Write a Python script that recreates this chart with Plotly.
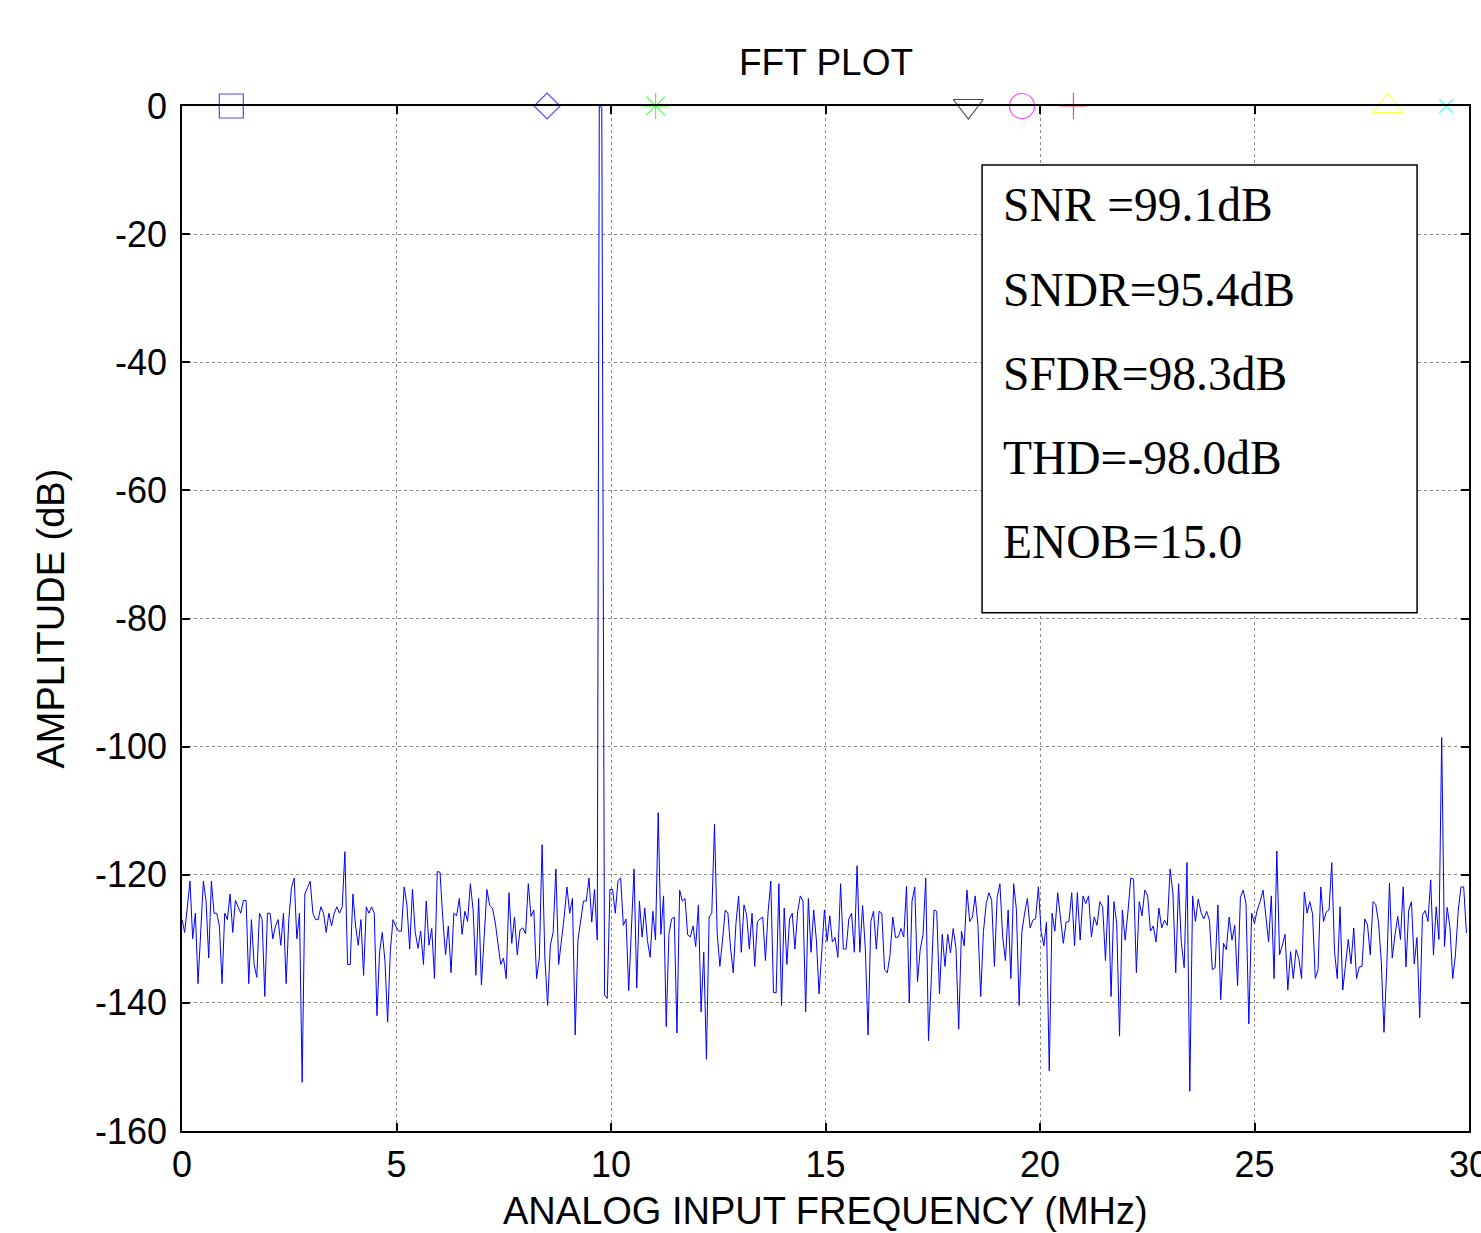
import numpy as np
import plotly.graph_objects as go

# ---------------- data ----------------
# Spectrum amplitude (dB) in six frequency segments plus the fundamental.
seg_a_db = [
    -127, -129, -125, -121, -130, -126, -137, -129, -121, -124,
    -133, -121, -126, -126, -128, -137, -126, -127, -123, -129,
    -124, -125, -126, -124, -124, -137, -127, -134, -136, -126,
    -127, -139, -126, -126, -130, -128, -127, -131, -126, -137,
    -127, -122, -120.5, -130, -126, -152.4, -123, -122, -121, -126,
    -127, -127, -125, -126, -129, -126, -128, -126, -125, -126,
    -125, -116.4, -134, -134, -123, -128, -131, -127, -135.7, -125,
    -126, -125, -126, -142, -132, -129, -133.5, -143, -132, -127,
    -128,
]
seg_b_db = [
    -128.8, -128.8, -121.9, -124.7, -131.6, -122.3, -128.9, -131.5, -128.8, -134,
    -124.1, -131, -128.4, -136.2, -119.5, -119.6, -126.8, -132.5, -128, -135.3,
    -126, -126.4, -123.7, -129.3, -125.7, -127.3, -121.4, -125.5, -135.7, -123.7,
    -137.2, -128.9, -122.3, -124.8, -125.2, -127.4, -130.7, -134, -133, -136.2,
    -122.8, -130.7, -126.6, -132.5, -128.6, -128.3, -129.2, -121.4, -126.5, -125.5,
    -136.2, -133, -115.3, -133, -140.4, -131, -129, -119.1, -134, -130.7,
    -126.6, -121.9, -126, -123.7, -145, -130.2, -127.2, -124.1, -124.1, -120.5,
    -127.4, -122.3, -130.2,
]
peak_db = [0.0, -0.2]
seg_c_db = [
    -138.8, -139.3,
    -122.3, -122.3, -126, -120.9, -120.5, -127.9, -126.9, -138.1, -129.4, -119.1,
    -137.7, -124.1, -129.7, -125.2, -130.3, -132.9, -125.7, -130.2, -110.3, -129.3,
    -123.3, -143.7, -129.3, -126.9, -126.6, -144.7, -122.4, -124.1, -123.7, -129.4,
    -129.7, -128, -131.2, -124.7, -141.4, -132.1, -148.8, -126.6, -126, -112.1,
    -129.1, -134.3, -130.2, -125.5, -126, -131.5, -135.3, -127.6, -123.3, -132.1,
    -124.7, -126.3, -131.6, -126, -134.3, -127.3, -126.9, -126.6, -133.4, -125.8,
    -121, -138.4, -138.4, -121.4, -140.4, -125.2, -134, -126.9, -126, -131.6,
    -125.8, -123.3, -124.1, -141.4, -123.7, -132.1, -125.5, -130.2, -138.6, -132,
    -125.5, -130.4, -126.4,
]
seg_d_db = [
    -130.5, -129.8, -132.9, -121.4, -131.6, -131.6, -126.9, -126, -132.1, -118.6,
    -132.1, -124.8, -131.5, -145, -127.3, -125.7, -131.6, -125.7, -126, -134.8,
    -135.3, -132.5, -126.6, -129.8, -129.7, -128.4, -129.7, -121.8, -140, -124.1,
    -121.9, -136.7, -131.6, -129.4, -120.5, -145.9, -136.5, -125.5, -125.7, -138.6,
    -129.3, -134.3, -129.3, -132.2, -128.4, -131.5, -144.1, -128.8, -131.1, -122.4,
    -127.3, -126.6, -123.3, -127.9, -139, -128.9, -124.5, -122.8, -124, -134.3,
    -123.5, -121.4, -129.7, -133.4, -125.5, -136.2, -121.4, -125.4, -140.4, -128.9,
    -126, -123.7, -128.3, -127.1, -126.9, -121.9, -128.9, -131.1,
]
seg_e_db = [
    -127.4, -150.6, -126, -128.8, -122.8, -127.3, -130.7, -127.4, -127.3, -122.8,
    -131.1, -122.8, -130.2, -123.3, -124.5, -123.3, -129.7, -126.6, -127.9, -124.2,
    -125, -133.4, -123.2, -139, -124.2, -127.6, -145.2, -125.5, -130.2, -125.8,
    -120.5, -120.7, -135.3, -124.2, -126.4, -122.4, -123.2, -128.8, -128, -130.5,
    -125.2, -128.3, -127.1, -127.9, -119.1, -122.9, -135.3, -121.4, -130.7, -134.5,
    -118.1, -153.8, -123.3, -127.3, -123.8, -125.9, -126.9, -125.7, -127.1, -134.8,
    -134.5, -124.7, -139.5, -130.7, -131.7, -126.6, -130.2, -127.9, -137.3, -123.5,
    -122.4, -124.5, -143.3, -126, -127.6, -125.5, -124.2,
]
seg_f_db = [
    -122.4, -126.3, -130.5, -123.3, -136.2, -116.3, -132.5, -131, -129.3, -138,
    -132, -136.2, -131.7, -133.1, -136.2, -122.7, -126, -124.2, -126.1, -136.2,
    -134.8, -121.9, -127.3, -125.8, -125.5, -118.1, -132, -136.2, -125, -138,
    -133.7, -130.1, -133.9, -128.3, -136.2, -134.4, -134.3, -126.9, -127.8, -132.5,
    -124.2, -124.6, -127.4, -133.4, -144.6, -134.5, -121.3, -133, -129.4, -126.5,
    -130.1, -121.9, -134.4, -125.5, -124.2, -133.9, -129.8, -142.3, -126.3, -125.6,
    -127.3, -120.8, -132.5, -125, -130.1, -98.6, -131.2, -125.1, -128.2, -136.2,
    -132.5, -125.7, -121.9, -121.9, -129.1,
]

# frequency span (MHz) covered by each segment
seg_a_mhz = (0.0, 4.98)
seg_b_mhz = (5.05, 9.68)
peak_mhz = [9.727, 9.785]
seg_c_mhz = (9.85, 15.10)
seg_d_mhz = (15.16, 20.09)
seg_e_mhz = (20.15, 25.13)
seg_f_mhz = (25.20, 29.94)

# harmonic / marker positions at the top of the plot
marker_mhz = [1.15, 8.51, 11.04, 18.33, 19.58, 20.78, 28.11, 29.47]
marker_db = [0, 0, 0, 0, 0, 0, 0, 0]
marker_symbol = ["square-open", "diamond-open", "asterisk-open", "triangle-down-open",
                 "circle-open", "cross-thin-open", "triangle-up-open", "x-thin-open"]
marker_color = ["#0000FF", "#0000FF", "#00FF00", "#000000",
                "#FF00FF", "#FF0000", "#FFFF00", "#00FFFF"]
marker_size = [24, 20, 22, 26, 25, 19, 26, 14]

stats_text = ["SNR =99.1dB", "SNDR=95.4dB", "SFDR=98.3dB", "THD=-98.0dB", "ENOB=15.0"]

x_ticks = [0, 5, 10, 15, 20, 25, 30]
y_ticks = [0, -20, -40, -60, -80, -100, -120, -140, -160]

# ---------------- build ----------------
def seg_freq(rng, vals):
    return list(np.linspace(rng[0], rng[1], len(vals)))

freq = (seg_freq(seg_a_mhz, seg_a_db) + seg_freq(seg_b_mhz, seg_b_db) + peak_mhz
        + seg_freq(seg_c_mhz, seg_c_db) + seg_freq(seg_d_mhz, seg_d_db)
        + seg_freq(seg_e_mhz, seg_e_db) + seg_freq(seg_f_mhz, seg_f_db))
amp = seg_a_db + seg_b_db + peak_db + seg_c_db + seg_d_db + seg_e_db + seg_f_db

SANS = "Liberation Sans, Arial, sans-serif"
SERIF = "Liberation Serif, Times New Roman, serif"

fig = go.Figure()
fig.add_trace(go.Scatter(x=freq, y=amp, mode="lines",
                         line=dict(color="#0000FF", width=1), showlegend=False,
                         hoverinfo="skip"))
fig.add_trace(go.Scatter(x=marker_mhz, y=marker_db, mode="markers", cliponaxis=False,
                         marker=dict(symbol=marker_symbol, color=marker_color,
                                     size=marker_size, line=dict(width=1.2)),
                         showlegend=False, hoverinfo="skip"))

axis_common = dict(
    showline=True, linecolor="black", linewidth=1.5, mirror="ticks",
    ticks="inside", ticklen=8, tickwidth=1.5, tickcolor="black",
    showgrid=True, gridcolor="#8a8a8a", griddash="dot", gridwidth=1,
    zeroline=False, tickfont=dict(family=SANS, size=36, color="black"),
    ticklabeloverflow="allow", automargin=False,
)

fig.update_xaxes(range=[0, 30], tickvals=x_ticks, ticktext=[str(v) for v in x_ticks],
                 ticklabelstandoff=1, **axis_common)
fig.update_yaxes(range=[-160, 0], tickvals=y_ticks, ticktext=[str(v) for v in y_ticks],
                 ticklabelstandoff=6, **axis_common)

# stats box
fig.add_shape(type="rect", xref="x", yref="y", x0=18.65, x1=28.79, y0=-79.1, y1=-9.2,
              line=dict(color="black", width=1.5), fillcolor="white", layer="above")
stats_y = [-15.45, -28.7, -41.8, -54.9, -68.0]
for txt, yy in zip(stats_text, stats_y):
    fig.add_annotation(x=19.1, y=yy, xref="x", yref="y", text=txt, showarrow=False,
                       xanchor="left", yanchor="middle",
                       font=dict(family=SERIF, size=47.5, color="black"))

# titles
fig.add_annotation(x=0.5, y=(1131 - 1233) / 1025, xref="paper", yref="paper",
                   text="ANALOG INPUT FREQUENCY (MHz)", showarrow=False,
                   xanchor="center", yanchor="bottom", borderpad=0,
                   font=dict(family=SANS, size=38, color="black"))
fig.add_annotation(x=(50 - 182) / 1287, y=0.5, xref="paper", yref="paper",
                   text="AMPLITUDE (dB)", showarrow=False, textangle=-90,
                   xanchor="center", yanchor="middle",
                   font=dict(family=SANS, size=38, color="black"))
fig.add_annotation(x=0.5, y=(1131 - 63) / 1025, xref="paper", yref="paper",
                   text="FFT PLOT", showarrow=False,
                   xanchor="center", yanchor="middle",
                   font=dict(family=SANS, size=37, color="black"))

fig.update_layout(
    width=1481, height=1233,
    margin=dict(l=182, r=12, t=106, b=102, pad=0, autoexpand=False),
    paper_bgcolor="white", plot_bgcolor="white",
)

fig.write_html("out.html", include_plotlyjs=True, config={"displayModeBar": False})
